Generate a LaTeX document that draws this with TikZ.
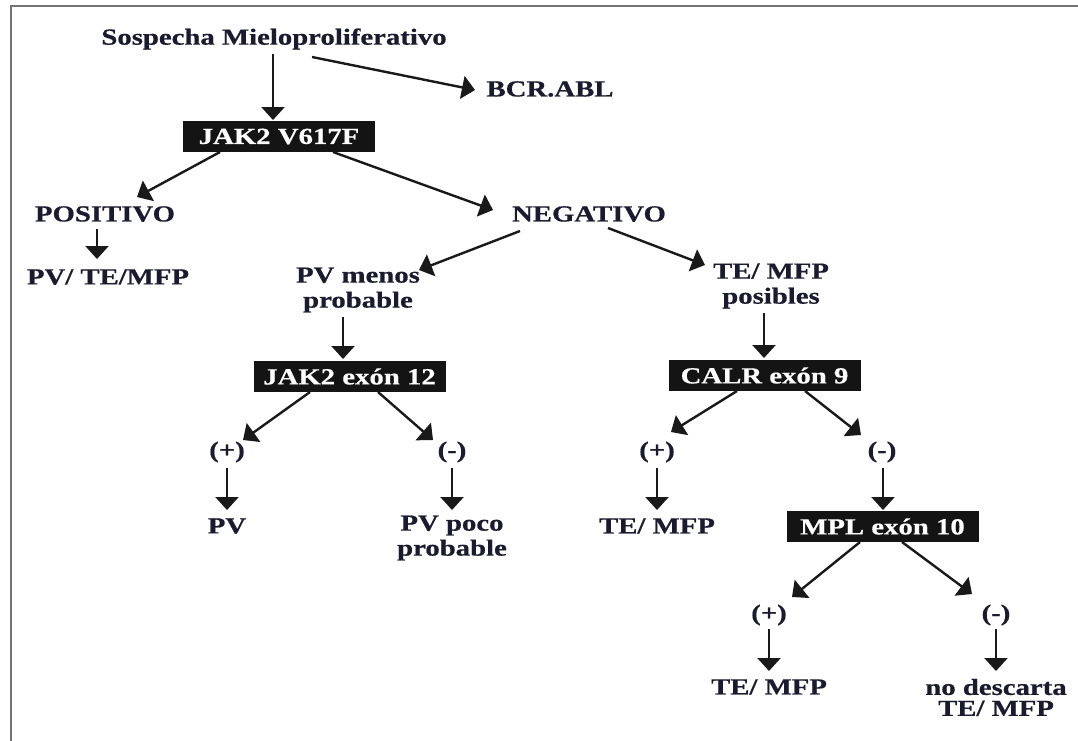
\documentclass[tikz,border=0pt]{standalone}
\usepackage{fontspec}
\setmainfont[FakeStretch=1.25,FakeBold=0.6]{Liberation Serif}
\usetikzlibrary{arrows.meta}
\definecolor{ink}{HTML}{1A1A30}
\begin{document}
\begin{tikzpicture}[x=1pt,y=-1pt,
  txt/.style={font=\bfseries\fontsize{23}{25}\selectfont, text=ink, align=center, inner sep=1pt},
  box/.style={txt, fill=black!92, text=white, minimum width=192pt, minimum height=31pt, inner sep=0pt},
  arr/.style={line width=2.4pt, draw=black!90, -{Triangle[width=23pt,length=13pt]}},
  frame/.style={draw=black!55, line width=2.5pt}
]
\useasboundingbox (0,0) rectangle (1078,740);
\draw[frame] (11,741) -- (11,6) -- (1079,6);

\node[txt] (sos) at (274,39) {Sospecha Mieloproliferativo};
\node[txt] (bcr) at (550,89) {BCR.ABL};
\node[box] (jak) at (279,136.5) {JAK2 V617F};
\node[txt] (pos) at (105,214) {POSITIVO};
\node[txt] (neg) at (589,214) {NEGATIVO};
\node[txt] (pvtm) at (108,277) {PV/ TE/MFP};
\node[txt] (pvmenos) at (358,290) {PV menos\\probable};
\node[txt] (temfp) at (771,286) {TE/ MFP\\posibles};
\node[box] (jak12) at (349.5,376.5) {JAK2 exón 12};
\node[box] (calr) at (764.5,375.5) {CALR exón 9};
\node[txt] (p1) at (227,452) {(+)};
\node[txt] (m1) at (452,452) {(-)};
\node[txt] (p2) at (657,452) {(+)};
\node[txt] (m2) at (882,452) {(-)};
\node[txt] (pv) at (227,526) {PV};
\node[txt] (pvpoco) at (452,538) {PV poco\\probable};
\node[txt] (te1) at (657,526) {TE/ MFP};
\node[box] (mpl) at (882.5,526.5) {MPL exón 10};
\node[txt] (p3) at (769,615) {(+)};
\node[txt] (m3) at (996,615) {(-)};
\node[txt] (te2) at (769,687) {TE/ MFP};
\node[txt] (nodesc) at (996,697.5) {no descarta\\[-4pt]TE/ MFP};

\draw[arr] ([shift={(-1,15)}]sos.center) -- ([shift={(-6,-16.5)}]jak.center);
\draw[arr] ([shift={(38,18)}]sos.center) -- ([shift={(-75,1)}]bcr.center);
\draw[arr] ([shift={(-59,15.5)}]jak.center) -- ([shift={(32,-17)}]pos.center);
\draw[arr] ([shift={(54,15.5)}]jak.center) -- ([shift={(-96,-4)}]neg.center);
\draw[arr] ([shift={(-8,15)}]pos.center) -- ([shift={(-11,-18)}]pvtm.center);
\draw[arr] ([shift={(-69,17)}]neg.center) -- ([shift={(61,-20)}]pvmenos.center);
\draw[arr] ([shift={(19,14)}]neg.center) -- ([shift={(-66,-21)}]temfp.center);
\draw[arr] ([shift={(-15,27)}]pvmenos.center) -- ([shift={(-6.5,-17.5)}]jak12.center);
\draw[arr] ([shift={(-7,27)}]temfp.center) -- ([shift={(-0.5,-17.5)}]calr.center);
\draw[arr] ([shift={(-39.5,15.5)}]jak12.center) -- ([shift={(16,-12)}]p1.center);
\draw[arr] ([shift={(28.5,15.5)}]jak12.center) -- ([shift={(-19,-12)}]m1.center);
\draw[arr] ([shift={(-27.5,15.5)}]calr.center) -- ([shift={(14,-20)}]p2.center);
\draw[arr] ([shift={(40.5,15.5)}]calr.center) -- ([shift={(-21,-17)}]m2.center);
\draw[arr] ([shift={(0,16)}]p1.center) -- ([shift={(0,-16)}]pv.center);
\draw[arr] ([shift={(0,16)}]m1.center) -- ([shift={(0,-28)}]pvpoco.center);
\draw[arr] ([shift={(0,16)}]p2.center) -- ([shift={(0,-16)}]te1.center);
\draw[arr] ([shift={(1,16)}]m2.center) -- ([shift={(0.5,-16.5)}]mpl.center);
\draw[arr] ([shift={(-22.5,15.5)}]mpl.center) -- ([shift={(23,-18)}]p3.center);
\draw[arr] ([shift={(19.5,15.5)}]mpl.center) -- ([shift={(-24,-21)}]m3.center);
\draw[arr] ([shift={(0,14)}]p3.center) -- ([shift={(0,-16)}]te2.center);
\draw[arr] ([shift={(0,14)}]m3.center) -- ([shift={(0,-26.5)}]nodesc.center);
\end{tikzpicture}
\end{document}
